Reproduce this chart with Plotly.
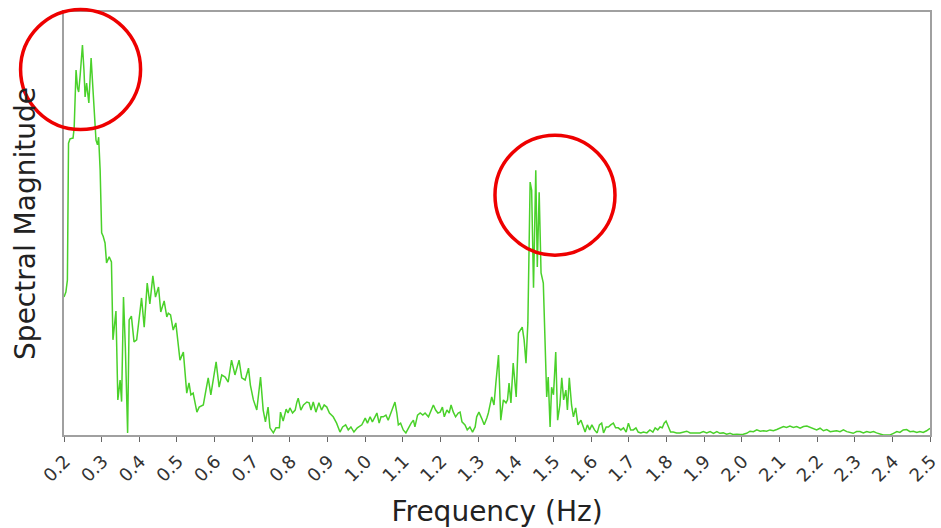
import plotly.graph_objects as go

# ---- data ----
freq = [
    0.200, 0.205, 0.209, 0.212, 0.216, 0.224, 0.227, 0.232, 0.236, 0.239,
    0.243, 0.249, 0.253, 0.256, 0.260, 0.264, 0.266, 0.272, 0.278, 0.282,
    0.285, 0.289, 0.292, 0.296, 0.300, 0.304, 0.309, 0.313, 0.320, 0.326,
    0.330, 0.338, 0.343, 0.349, 0.353, 0.358, 0.363, 0.369, 0.373, 0.379,
    0.386, 0.393, 0.399, 0.406, 0.413, 0.421, 0.428, 0.436, 0.443, 0.451,
    0.457, 0.466, 0.473, 0.477, 0.483, 0.490, 0.497, 0.501, 0.508, 0.517,
    0.526, 0.532, 0.537, 0.543, 0.553, 0.559, 0.570, 0.577, 0.583, 0.590,
    0.597, 0.604, 0.612, 0.619, 0.628, 0.636, 0.645, 0.654, 0.665, 0.672,
    0.681, 0.690, 0.695, 0.703, 0.712, 0.722, 0.729, 0.735, 0.742, 0.747,
    0.756, 0.763, 0.772, 0.775, 0.782, 0.790, 0.795, 0.800,
    0.807, 0.814, 0.818, 0.822, 0.829, 0.836, 0.845, 0.851, 0.856, 0.862,
    0.869, 0.877, 0.884, 0.891, 0.898, 0.905, 0.915, 0.924, 0.933, 0.940,
    0.948, 0.955, 0.962, 0.970, 0.979, 0.991, 1.000, 1.006, 1.013, 1.019,
    1.026, 1.031, 1.037, 1.042, 1.048, 1.055, 1.061, 1.069, 1.075, 1.079,
    1.084, 1.088, 1.094, 1.101, 1.108, 1.115, 1.122, 1.128, 1.132, 1.139,
    1.146, 1.153, 1.159, 1.168, 1.175, 1.181, 1.187, 1.193, 1.199, 1.205,
    1.210, 1.217, 1.223, 1.228, 1.234, 1.240, 1.247, 1.252, 1.257, 1.265,
    1.271, 1.278, 1.285, 1.292, 1.296, 1.302, 1.309, 1.316, 1.323, 1.327,
    1.336, 1.342, 1.347, 1.354, 1.360, 1.367, 1.374, 1.378, 1.382, 1.387,
    1.393, 1.401, 1.407, 1.411, 1.417, 1.422, 1.427, 1.432, 1.436, 1.438,
    1.442, 1.447, 1.453, 1.457, 1.462, 1.467, 1.473, 1.478, 1.482, 1.486,
    1.491, 1.495, 1.500, 1.506, 1.511, 1.517, 1.522, 1.527, 1.533, 1.537,
    1.542, 1.548, 1.553, 1.559, 1.565, 1.573, 1.579, 1.584, 1.590, 1.596,
    1.602, 1.609, 1.616, 1.622, 1.628, 1.633, 1.640, 1.646, 1.652, 1.659,
    1.665, 1.672, 1.679, 1.686, 1.693, 1.699, 1.705, 1.712, 1.719, 1.725,
    1.732, 1.739, 1.748, 1.756, 1.764, 1.770, 1.777, 1.783, 1.789, 1.794,
    1.799, 1.805, 1.811, 1.818, 1.827, 1.836, 1.845, 1.854, 1.863, 1.871,
    1.880, 1.889, 1.898, 1.907, 1.916, 1.925, 1.934, 1.942, 1.951, 1.960,
    1.969, 1.978, 1.987, 1.996, 2.004, 2.013, 2.022, 2.031, 2.040, 2.049,
    2.058, 2.066, 2.075, 2.084, 2.093, 2.102, 2.111, 2.119, 2.128, 2.137,
    2.146, 2.155, 2.164, 2.173, 2.181, 2.190, 2.199, 2.208, 2.217, 2.226,
    2.235, 2.243, 2.252, 2.261, 2.270, 2.279, 2.288, 2.296, 2.305, 2.314,
    2.323, 2.332, 2.341, 2.350, 2.358, 2.367, 2.376, 2.385, 2.394, 2.403,
    2.412, 2.420, 2.429, 2.438, 2.447, 2.456, 2.465, 2.473, 2.482, 2.491,
    2.500,
]

magnitude = [
    32.6, 33.8, 36.6, 69.0, 70.0, 70.2, 72.6, 86.3, 82.0, 81.1,
    85.1, 92.2, 86.3, 79.9, 83.2, 80.4, 78.5, 89.1, 80.4, 74.5,
    69.7, 68.6, 70.4, 62.6, 47.8, 47.0, 45.4, 40.7, 42.1, 40.9,
    22.5, 29.3, 8.3, 13.0, 7.9, 32.6, 20.6, 0.5, 27.2, 28.1,
    22.0, 22.5, 27.7, 32.4, 25.5, 35.9, 31.0, 37.6, 32.6, 35.0,
    29.1, 31.7, 27.9, 28.8, 28.4, 24.8, 26.5, 23.2, 17.7, 19.6,
    9.9, 12.3, 9.5, 9.9, 5.4, 6.6, 7.1, 10.6, 13.5, 9.5,
    13.0, 17.3, 11.3, 14.2, 13.7, 12.5, 17.7, 14.2, 17.7, 13.5,
    13.0, 15.8, 11.8, 8.3, 5.9, 13.7, 5.9, 3.1, 6.6, 1.7,
    0.5, 1.7, 1.7, 5.4, 3.3, 6.1, 5.2, 6.4,
    5.2, 5.9, 7.6, 8.7, 5.9, 7.1, 7.8, 7.6, 5.9, 7.8,
    5.4, 7.6, 5.9, 7.1, 6.6, 5.2, 4.3, 2.8, 0.7, 1.9,
    2.4, 1.2, 1.9, 0.7, 1.7, 2.4, 4.0, 2.8, 4.3, 3.1,
    4.3, 5.2, 2.8, 4.3, 4.3, 4.7, 3.5, 5.4, 7.1, 7.8,
    5.2, 2.4, 2.8, 1.2, 0.5, 1.7, 2.8, 3.5, 1.9, 4.7,
    5.2, 4.7, 5.2, 4.3, 5.9, 7.1, 5.9, 5.2, 5.4, 6.6,
    4.3, 5.9, 5.2, 7.1, 5.4, 4.3, 5.2, 5.4, 3.1, 2.4,
    1.2, 1.9, 0.7, 1.9, 4.3, 5.4, 4.0, 2.4, 4.0, 5.2,
    9.0, 7.1, 12.3, 18.9, 3.5, 8.3, 7.6, 8.3, 12.3, 7.6,
    17.0, 9.0, 24.1, 24.8, 25.5, 22.5, 17.0, 26.5, 43.7, 59.8,
    57.9, 34.8, 62.6, 39.7, 57.4, 38.3, 35.9, 17.7, 9.0, 13.7,
    1.9, 11.3, 9.5, 19.6, 3.5, 7.1, 13.5, 8.3, 10.6, 5.9,
    13.5, 7.1, 4.3, 6.4, 2.4, 3.5, 1.9, 0.7, 2.4, 1.2,
    2.4, 1.2, 0.5, 2.4, 2.8, 0.5, 1.9, 1.9, 2.4, 2.8,
    1.7, 1.7, 1.2, 1.7, 0.7, 2.8, 1.2, 1.2, 1.7, 0.7,
    0.5, 0.7, 0.5, 1.2, 0.7, 1.7, 1.2, 1.9, 1.7, 2.8,
    3.3, 1.9, 0.7, 0.7, 0.5, 0.5, 0.7, 0.9, 0.5, 0.5,
    0.4, 0.5, 0.8, 0.5, 0.8, 0.4, 0.8, 0.4, 0.5, 0.2,
    0.4, 0.1, 0.2, 0.1, 0.2, 0.4, 0.9, 0.8, 1.2, 0.9,
    1.0, 0.9, 1.2, 1.0, 1.3, 1.6, 2.0, 1.8, 2.1, 1.8,
    2.0, 1.6, 2.0, 2.1, 1.8, 1.6, 1.2, 1.6, 1.0, 1.3,
    0.8, 0.9, 1.0, 0.8, 1.2, 0.8, 0.6, 0.4, 0.8, 0.8,
    0.5, 0.8, 0.6, 0.8, 0.5, 0.2, 0.0, 0.0, 0.0, 0.4,
    0.8, 0.6, 1.2, 1.3, 0.8, 0.9, 0.6, 0.8, 0.6, 1.0,
    1.6,
]

tick_values = [0.2, 0.3, 0.4, 0.5, 0.6, 0.7, 0.8, 0.9, 1.0, 1.1, 1.2, 1.3,
               1.4, 1.5, 1.6, 1.7, 1.8, 1.9, 2.0, 2.1, 2.2, 2.3, 2.4, 2.5]
tick_labels = ["0.2", "0.3", "0.4", "0.5", "0.6", "0.7", "0.8", "0.9", "1.0",
               "1.1", "1.2", "1.3", "1.4", "1.5", "1.6", "1.7", "1.8", "1.9",
               "2.0", "2.1", "2.2", "2.3", "2.4", "2.5"]

# highlighted peak regions (frequency, magnitude) at circle centres
highlight_freq = [0.244, 1.504]
highlight_mag = [86.4, 56.7]

# ---- layout constants ----
W, H = 941, 528
ML, MR, MT, MB = 64, 11, 12, 93
X_RANGE = [0.2, 2.5]
Y_RANGE = [0, 100]
CIRCLE_R = 60  # pixels
plot_w = W - ML - MR
plot_h = H - MT - MB

fig = go.Figure()
fig.add_trace(go.Scatter(
    x=freq, y=magnitude, mode="lines",
    line=dict(color="#4ad12a", width=1.5),
    showlegend=False, hoverinfo="skip",
))

shapes = []
for f, m in zip(highlight_freq, highlight_mag):
    px = (f - X_RANGE[0]) / (X_RANGE[1] - X_RANGE[0])
    py = (m - Y_RANGE[0]) / (Y_RANGE[1] - Y_RANGE[0])
    rx = CIRCLE_R / plot_w
    ry = CIRCLE_R / plot_h
    shapes.append(dict(
        type="circle", xref="paper", yref="paper",
        x0=px - rx, x1=px + rx, y0=py - ry, y1=py + ry,
        line=dict(color="#ee0000", width=3.5), fillcolor="rgba(0,0,0,0)",
        layer="above",
    ))

fig.update_layout(
    width=W, height=H,
    margin=dict(l=ML, r=MR, t=MT, b=MB, autoexpand=False),
    paper_bgcolor="white", plot_bgcolor="white",
    font=dict(family="DejaVu Sans", color="#222222"),
    shapes=shapes,
    xaxis=dict(
        range=X_RANGE, tickmode="array", tickvals=tick_values, ticktext=tick_labels,
        tickangle=-45, tickfont=dict(size=18, color="#333333"),
        ticklabelshift=1, ticklabelstandoff=2, ticklabeloverflow="allow",
        ticks="outside", ticklen=5, tickwidth=1, tickcolor="#666666",
        showline=True, linecolor="#a0a0a0", linewidth=1.5, mirror=True,
        showgrid=False, zeroline=False,
        title=dict(text="Frequency (Hz)", font=dict(size=28, color="#222222"), standoff=18),
        automargin=False,
    ),
    yaxis=dict(
        range=Y_RANGE, showticklabels=False, ticks="",
        showline=True, linecolor="#a0a0a0", linewidth=1.5, mirror=True,
        showgrid=False, zeroline=False,
        title=dict(text="Spectral Magnitude", font=dict(size=28, color="#222222"), standoff=18),
        automargin=False,
    ),
)

fig.write_html("out.html")
